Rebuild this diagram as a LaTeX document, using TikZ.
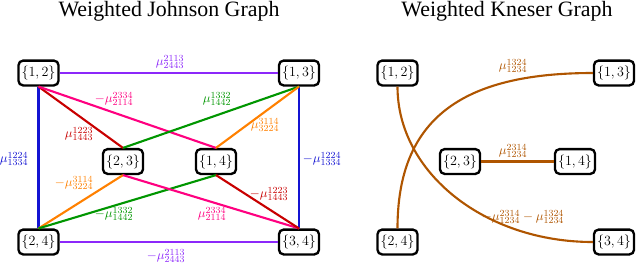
\documentclass[tikz,border=0pt]{standalone}
\usepackage{fontspec}
\newfontfamily\titlefont{Liberation Serif}
\usetikzlibrary{calc}
\definecolor{cPurple}{RGB}{140,40,250}
\definecolor{cPink}{RGB}{255,0,128}
\definecolor{cGreen}{RGB}{0,150,0}
\definecolor{cRed}{RGB}{200,0,0}
\definecolor{cOrange}{RGB}{255,128,0}
\definecolor{cBlue}{RGB}{20,20,210}
\definecolor{cBrown}{RGB}{175,85,0}
\begin{document}
\begin{tikzpicture}[x=0.03cm,y=-0.03cm,
  setbox/.style={draw, line width=2pt, rounded corners=4pt, fill=white,
    inner xsep=2.6pt, inner ysep=4.6pt, font=\fontsize{13}{15}\selectfont},
  link/.style={line width=1.8pt},
  lbl/.style={inner sep=0pt, font=\fontsize{11}{13}\selectfont},
  ttl/.style={anchor=base, inner sep=0pt, font=\titlefont\fontsize{18.7}{20}\selectfont}]
\useasboundingbox (0,0) rectangle (640,267);

% titles
\node[ttl] (t1) at (169,16) {Weighted Johnson Graph};
\node[ttl] (t2) at (507,16) {Weighted Kneser Graph};

% Johnson graph nodes
\node[setbox] (j12) at (38.5,73) {$\{1,2\}$};
\node[setbox] (j13) at (299,73) {$\{1,3\}$};
\node[setbox] (j23) at (123,161.5) {$\{2,3\}$};
\node[setbox] (j14) at (216,161.5) {$\{1,4\}$};
\node[setbox] (j24) at (38.5,242) {$\{2,4\}$};
\node[setbox] (j34) at (299,242) {$\{3,4\}$};

% Johnson edges
\draw[link,cPurple] (j12.east) -- (j13.west);
\draw[link,cPurple] (j24.east) -- (j34.west);
\draw[link,cBlue] (j12.south) -- (j24.north);
\draw[link,cBlue] (j13.south) -- (j34.north);
\draw[link,cRed] (j12.south) -- (j23.north);
\draw[link,cPink] (j12.south) -- (j14.north);
\draw[link,cGreen] (j13.south) -- (j23.north);
\draw[link,cOrange] (j13.south) -- (j14.north);
\draw[link,cOrange] (j23.south) -- (j24.north);
\draw[link,cGreen] (j14.south) -- (j24.north);
\draw[link,cPink] (j23.south) -- (j34.north);
\draw[link,cRed] (j14.south) -- (j34.north);

% Johnson labels
\node[lbl,cPurple] (a1) at (170,62) {$\mu^{2113}_{2443}$};
\node[lbl,cPurple] (a2) at (166,256) {$-\mu^{2113}_{2443}$};
\node[lbl,cBlue] (a3) at (14,159) {$\mu^{1224}_{1334}$};
\node[lbl,cBlue] (a4) at (322,159) {$-\mu^{1224}_{1334}$};
\node[lbl,cPink] (a5) at (114,99) {$-\mu^{2334}_{2114}$};
\node[lbl,cGreen] (a6) at (217,99) {$\mu^{1332}_{1442}$};
\node[lbl,cRed] (a7) at (79,134) {$\mu^{1223}_{1443}$};
\node[lbl,cOrange] (a8) at (265,125) {$\mu^{3114}_{3224}$};
\node[lbl,cOrange] (a9) at (74,183) {$-\mu^{3114}_{3224}$};
\node[lbl,cGreen] (a10) at (114,214) {$-\mu^{1332}_{1442}$};
\node[lbl,cPink] (a11) at (212,214) {$\mu^{2334}_{2114}$};
\node[lbl,cRed] (a12) at (269,194) {$-\mu^{1223}_{1443}$};

% Kneser graph nodes
\node[setbox] (k12) at (397.5,73) {$\{1,2\}$};
\node[setbox] (k13) at (614,73) {$\{1,3\}$};
\node[setbox] (k23) at (460,161.5) {$\{2,3\}$};
\node[setbox] (k14) at (575,161.5) {$\{1,4\}$};
\node[setbox] (k24) at (397.5,242) {$\{2,4\}$};
\node[setbox] (k34) at (614,242) {$\{3,4\}$};

% Kneser edges
\draw[link,cBrown] (k12.south) .. controls ($(k12.south)+(0,86)$) and ($(k34.west)+(-108,0)$) .. (k34.west);
\draw[link,cBrown] (k24.north) .. controls ($(k24.north)+(0,-108)$) and ($(k13.west)+(-133,0)$) .. (k13.west);
\draw[link,cBrown] (k23.east) -- (k14.west);

% Kneser labels
\node[lbl,cBrown] (b1) at (513,66) {$\mu^{1324}_{1234}$};
\node[lbl,cBrown] (b2) at (513,151) {$\mu^{2314}_{1234}$};
\node[lbl,cBrown] (b3) at (523,217) {$-\mu^{2314}_{1234}-\mu^{1324}_{1234}$};
\end{tikzpicture}
\end{document}
